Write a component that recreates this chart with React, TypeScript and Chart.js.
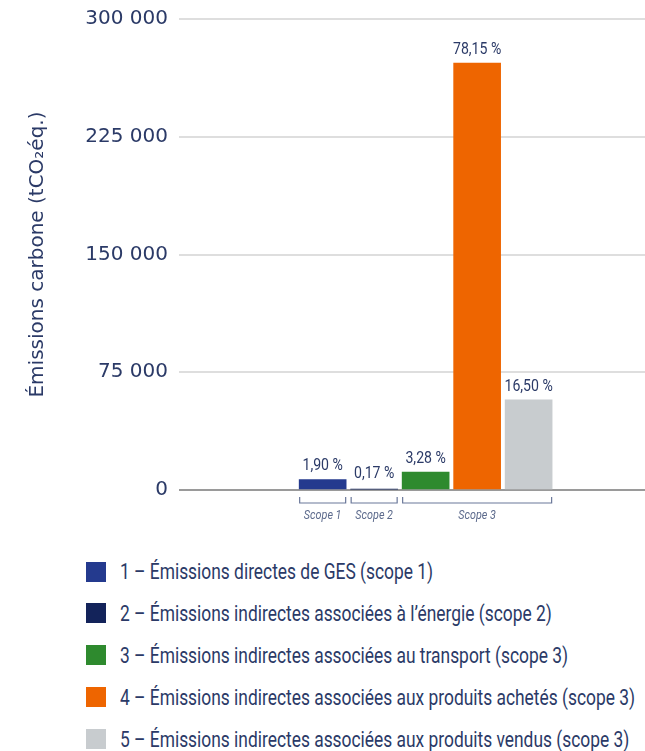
import React, { useEffect, useRef } from "react";
import { Chart, registerables } from "chart.js";

Chart.register(...registerables);

const categories = [
  "1 – Émissions directes de GES (scope 1)",
  "2 – Émissions indirectes associées à l’énergie (scope 2)",
  "3 – Émissions indirectes associées au transport (scope 3)",
  "4 – Émissions indirectes associées aux produits achetés (scope 3)",
  "5 – Émissions indirectes associées aux produits vendus (scope 3)",
];
const positions = [1, 2, 3, 4, 5];
const emissions = [6600, 590, 11400, 272000, 57400];
const percents = [1.9, 0.17, 3.28, 78.15, 16.5];
const colors = ["#243a8e", "#13235a", "#2e8a2e", "#ee6500", "#c8cccf"];
const yTicks = [0, 75000, 150000, 225000, 300000];
const scopeLabels = ["Scope 1", "Scope 2", "Scope 3"];
const scopeFrom = [1, 2, 3];
const scopeTo = [1, 2, 5];

const NAVY = "#2b3a67";
const COND = "Roboto, 'Noto Sans', sans-serif";
const WIDE = "'DejaVu Sans', 'Noto Sans', sans-serif";
const BAR_W = 47;
const SQUEEZE = 0.83;

const fmtThousands = (v: number) => String(v).replace(/\B(?=(\d{3})+(?!\d))/g, " ");
const fmtPct = (v: number) => v.toFixed(2).replace(".", ",") + " %";

function squeezedText(ctx: any, text: string, x: number, y: number, k: number) {
  ctx.save();
  ctx.translate(x, y);
  ctx.scale(k, 1);
  ctx.fillText(text, 0, 0);
  ctx.restore();
}

const annotations = {
  id: "annotations",
  afterDatasetsDraw(chart: any) {
    const ctx = chart.ctx;
    const meta = chart.getDatasetMeta(0);
    const xScale = chart.scales.x;
    const yScale = chart.scales.y;
    ctx.save();
    ctx.fillStyle = NAVY;
    ctx.font = `17px ${COND}`;
    ctx.textAlign = "center";
    ctx.textBaseline = "bottom";
    const base = yScale.getPixelForValue(0);
    meta.data.forEach((bar: any, i: number) => {
      squeezedText(ctx, fmtPct(percents[i]), bar.x, Math.min(bar.y, base - 3) - 5, SQUEEZE);
    });
    const yTop = base + 7;
    const yLine = base + 13;
    ctx.strokeStyle = "#6b789a";
    ctx.lineWidth = 1.2;
    ctx.fillStyle = "#5c6a8c";
    ctx.font = `italic 13px ${COND}`;
    ctx.textBaseline = "middle";
    scopeLabels.forEach((lab, i) => {
      const x0 = xScale.getPixelForValue(scopeFrom[i]) - BAR_W / 2 + 0.5;
      const x1 = xScale.getPixelForValue(scopeTo[i]) + BAR_W / 2 - 0.5;
      ctx.beginPath();
      ctx.moveTo(x0, yTop);
      ctx.lineTo(x0, yLine);
      ctx.lineTo(x1, yLine);
      ctx.lineTo(x1, yTop);
      ctx.stroke();
      squeezedText(ctx, lab, (x0 + x1) / 2, yLine + 13, SQUEEZE);
    });
    ctx.restore();
  },
};

export default function App() {
  const ref = useRef<HTMLCanvasElement | null>(null);
  useEffect(() => {
    if (!ref.current) return;
    const chart = new Chart(ref.current, {
      type: "bar",
      data: {
        datasets: [
          {
            data: positions.map((p, i) => ({ x: p, y: emissions[i] })),
            backgroundColor: colors,
            barThickness: BAR_W,
            borderWidth: 0,
          },
        ],
      },
      options: {
        animation: false,
        responsive: false,
        devicePixelRatio: 1,
        layout: { padding: { top: 19, bottom: 50, left: 0, right: 0 } },
        plugins: { legend: { display: false }, tooltip: { enabled: false } },
        scales: {
          x: { type: "linear", min: -1.79, max: 7.26, offset: false, display: false },
          y: {
            min: 0,
            max: 300000,
            afterBuildTicks: (scale: any) => {
              scale.ticks = yTicks.map((v) => ({ value: v }));
            },
            afterFit: (scale: any) => {
              scale.width = 179;
              scale.paddingTop = 0;
              scale.paddingBottom = 0;
            },
            border: { display: false },
            grid: {
              drawTicks: false,
              lineWidth: 2,
              color: (c: any) => (c.tick && c.tick.value === 0 ? "#9a9a9a" : "#dedede"),
            },
            ticks: {
              padding: 11,
              color: NAVY,
              font: { family: WIDE, size: 20 },
              callback: (v: any) => fmtThousands(Number(v)),
            },
            title: {
              display: true,
              text: "Émissions carbone (tCO₂éq.)",
              color: NAVY,
              font: { family: WIDE, size: 20 },
              padding: { top: 26, bottom: 0 },
            },
          },
        },
      },
      plugins: [annotations],
    });
    return () => chart.destroy();
  }, []);

  return (
    <div style={{ position: "absolute", left: 0, top: 0, width: 645, height: 751, background: "#fff" }}>
      <canvas ref={ref} width={645} height={540} style={{ display: "block" }} />
      <div style={{ position: "absolute", left: 86, top: 551 }}>
        {categories.map((c, i) => (
          <div key={i} style={{ display: "flex", alignItems: "center", height: i === 0 ? 41 : 42 }}>
            <div style={{ width: 20, height: 20, background: colors[i], flex: "none" }} />
            <span
              style={{
                marginLeft: 14,
                fontFamily: COND,
                fontSize: 22,
                color: NAVY,
                whiteSpace: "nowrap",
                display: "inline-block",
                transform: "scaleX(0.79)",
                transformOrigin: "left center",
              }}
            >
              {c}
            </span>
          </div>
        ))}
      </div>
    </div>
  );
}
